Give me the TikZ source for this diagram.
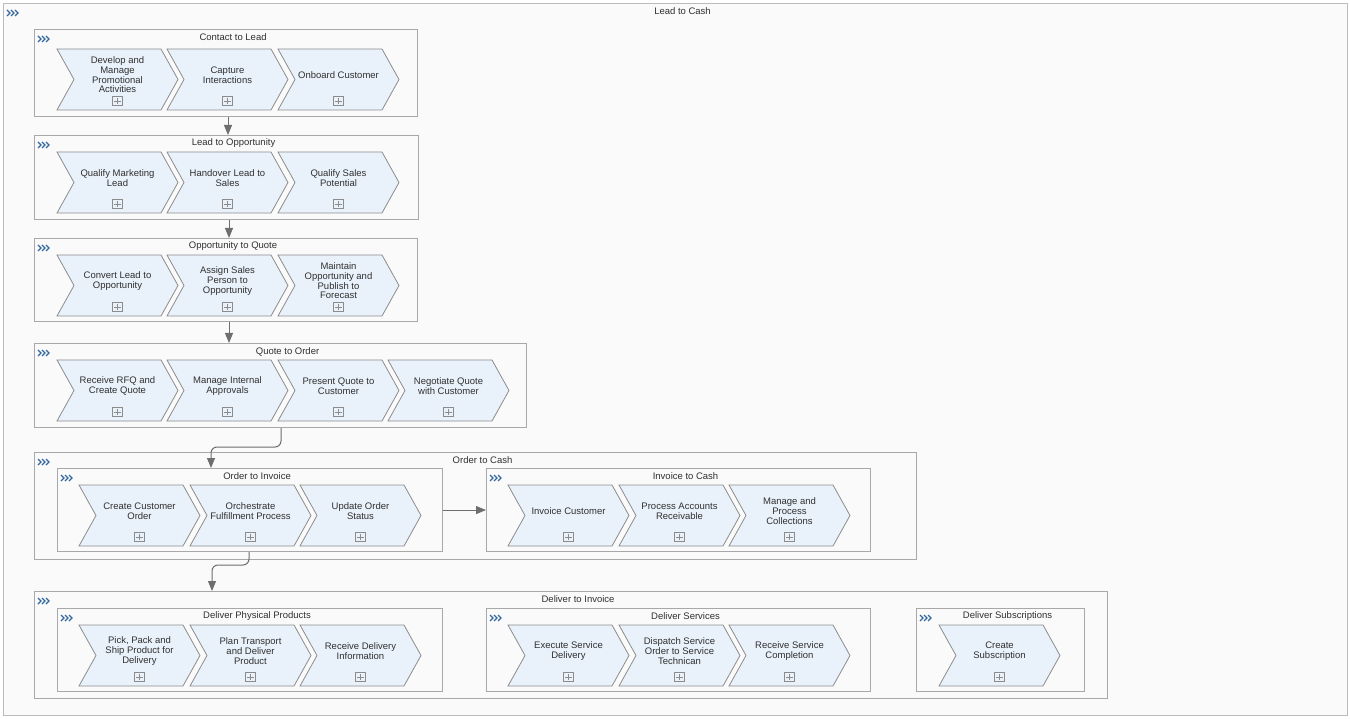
\documentclass[tikz,border=0pt]{standalone}
\usepackage{fontspec}
\setmainfont{Liberation Sans}
\usetikzlibrary{arrows.meta}
\definecolor{chevfill}{HTML}{E9F2FB}
\definecolor{chevline}{HTML}{8C8C8C}
\definecolor{grpline}{HTML}{A8A8A8}
\definecolor{outline}{HTML}{BBBBBB}
\definecolor{bgfill}{HTML}{FAFAFA}
\definecolor{icoblue}{HTML}{3568A0}
\definecolor{txt}{HTML}{303030}
\definecolor{conncol}{HTML}{6E6E6E}
\tikzset{
  grpbox/.style={draw=grpline, line width=1.1pt, fill=bgfill, rectangle, inner sep=0pt, anchor=north west},
  outerbox/.style={draw=outline, line width=1pt, fill=bgfill, rectangle, inner sep=0pt, anchor=north west},
  chev/.style={draw=chevline, line width=0.8pt, fill=chevfill, line join=miter},
  ctext/.style={text=txt, align=center, font=\fontsize{9.5}{9.7}\selectfont, inner sep=0pt},
  ttl/.style={text=txt, font=\fontsize{9.5}{9.7}\selectfont, inner sep=0pt},
  plusbox/.style={draw=chevline, line width=0.7pt, minimum size=9.5pt, inner sep=0pt, rectangle},
  pluscross/.style={draw=chevline, line width=0.7pt},
  ico/.style={draw=icoblue, line width=1.1pt},
  conn/.style={draw=conncol, line width=1pt, -{Triangle[width=8pt,length=10pt]}, rounded corners=6pt}
}
\newcommand\icn[2]{%
  \draw[ico] (#1,#2-3) -- (#1+3,#2) -- (#1,#2+3);
  \draw[ico] (#1+4,#2-3) -- (#1+7,#2) -- (#1+4,#2+3);
  \draw[ico] (#1+8,#2-3) -- (#1+11,#2) -- (#1+8,#2+3);
}
\newcommand\grp[7]{% style, name, x1, y1, x2, y2, title
  \node[#1, minimum width={#5-#3}, minimum height={#6-#4}] (#2) at (#3,#4) {};
  \node[ttl] (#2t) at ([xshift=7pt,yshift=-8.5pt]#2.north) {#7};
  \icn{#3+4}{#4+10}
}
\newcommand\chv[4]{% name, x, ytop, text
  \draw[chev] (#2,#3) -- ++(104,0) -- ++(17,30.5) -- ++(-17,30.5) -- ++(-104,0) -- ++(17,-30.5) -- cycle;
  \node[ctext] (#1) at (#2+60.5,#3+26) {#4};
  \node[plusbox] (#1p) at (#2+60.5,#3+52) {};
  \draw[pluscross] ([yshift=-2pt]#1p.north) -- ([yshift=2pt]#1p.south)
                   ([xshift=2pt]#1p.west) -- ([xshift=-2pt]#1p.east);
}
\begin{document}
\begin{tikzpicture}[x=1pt,y=-1pt]
\useasboundingbox (0,0) rectangle (1350,719);
\fill[white] (0,0) rectangle (1350,719);
% outer
\grp{outerbox}{ltc}{3}{3}{1347}{715}{Lead to Cash}
% Contact to Lead
\grp{grpbox}{ctl}{34}{29}{417}{116}{Contact to Lead}
\chv{c1}{57}{49}{Develop and\\Manage\\Promotional\\Activities}
\chv{c2}{167}{49}{Capture\\Interactions}
\chv{c3}{278}{49}{Onboard Customer}
% Lead to Opportunity
\grp{grpbox}{lto}{34}{135}{418}{219}{Lead to Opportunity}
\chv{l1}{57}{152}{Qualify Marketing\\Lead}
\chv{l2}{167}{152}{Handover Lead to\\Sales}
\chv{l3}{278}{152}{Qualify Sales\\Potential}
% Opportunity to Quote
\grp{grpbox}{otq}{34}{238}{417}{321}{Opportunity to Quote}
\chv{o1}{57}{255}{Convert Lead to\\Opportunity}
\chv{o2}{167}{255}{Assign Sales\\Person to\\Opportunity}
\chv{o3}{278}{255}{Maintain\\Opportunity and\\Publish to\\Forecast}
% Quote to Order
\grp{grpbox}{qto}{34}{343}{526}{427}{Quote to Order}
\chv{q1}{57}{360}{Receive RFQ and\\Create Quote}
\chv{q2}{167}{360}{Manage Internal\\Approvals}
\chv{q3}{278}{360}{Present Quote to\\Customer}
\chv{q4}{388}{360}{Negotiate Quote\\with Customer}
% Order to Cash
\grp{grpbox}{otc}{34}{452}{916}{559}{Order to Cash}
\grp{grpbox}{oti}{57}{468}{442}{551}{Order to Invoice}
\chv{i1}{79}{485}{Create Customer\\Order}
\chv{i2}{190}{485}{Orchestrate\\Fulfillment Process}
\chv{i3}{300}{485}{Update Order\\Status}
\grp{grpbox}{itc}{486}{468}{870}{551}{Invoice to Cash}
\chv{k1}{508}{485}{Invoice Customer}
\chv{k2}{619}{485}{Process Accounts\\Receivable}
\chv{k3}{729}{485}{Manage and\\Process\\Collections}
% Deliver to Invoice
\grp{grpbox}{dti}{34}{591}{1107}{698}{Deliver to Invoice}
\grp{grpbox}{dpp}{57}{608}{442}{691}{Deliver Physical Products}
\chv{p1}{79}{625}{Pick, Pack and\\Ship Product for\\Delivery}
\chv{p2}{190}{625}{Plan Transport\\and Deliver\\Product}
\chv{p3}{300}{625}{Receive Delivery\\Information}
\grp{grpbox}{dsv}{486}{608}{870}{691}{Deliver Services}
\chv{s1}{508}{625}{Execute Service\\Delivery}
\chv{s2}{619}{625}{Dispatch Service\\Order to Service\\Technican}
\chv{s3}{729}{625}{Receive Service\\Completion}
\grp{grpbox}{dsb}{916}{608}{1084}{691}{Deliver Subscriptions}
\chv{b1}{939}{625}{Create\\Subscription}
% connectors
\draw[conn] (ctl.south -| 228,0) -- (lto.north -| 228,0);
\draw[conn] (lto.south -| 229,0) -- (otq.north -| 229,0);
\draw[conn] (otq.south -| 229,0) -- (qto.north -| 229,0);
\coordinate (bend1) at (211,447);
\draw[conn] (qto.south -| 281,0) |- (bend1) -- (oti.north -| bend1);
\draw[conn] (oti.east) -- (itc.west);
\coordinate (bend2) at (212,565);
\draw[conn] (oti.south -| 249,0) |- (bend2) -- (dti.north -| bend2);
\end{tikzpicture}
\end{document}
